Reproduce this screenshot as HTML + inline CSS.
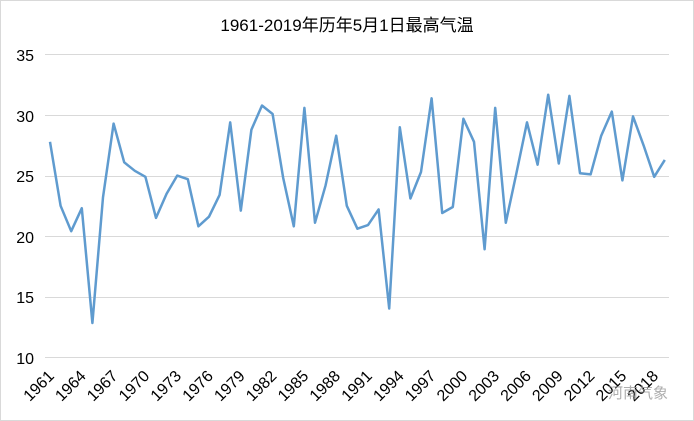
<!DOCTYPE html>
<html><head><meta charset="utf-8"><style>
html,body{margin:0;padding:0;background:#fff}
svg{display:block}
text{font-family:"Liberation Sans","Noto Sans CJK SC",sans-serif;fill:#000}
</style></head><body>
<svg width="694" height="421" viewBox="0 0 694 421">
<rect x="0.5" y="0.5" width="693" height="420" fill="#fff" stroke="#d9d9d9"/>
<text x="347" y="31" font-size="17" text-anchor="middle">1961-2019年历年5月1日最高气温</text>
<g stroke="#d9d9d9" stroke-width="1">
<line x1="45" x2="669" y1="54.5" y2="54.5"/>
<line x1="45" x2="669" y1="115.5" y2="115.5"/>
<line x1="45" x2="669" y1="176.5" y2="176.5"/>
<line x1="45" x2="669" y1="236.5" y2="236.5"/>
<line x1="45" x2="669" y1="297.5" y2="297.5"/>
<line x1="45" x2="669" y1="357.5" y2="357.5"/>
</g>
<g font-size="16" text-anchor="end">
<text x="34" y="61">35</text>
<text x="34" y="122">30</text>
<text x="34" y="182">25</text>
<text x="34" y="243">20</text>
<text x="34" y="303">15</text>
<text x="34" y="364">10</text>
</g>
<polyline fill="none" stroke="#5f9bcf" stroke-width="2.5" stroke-linejoin="round" points="50,141.8 60.6,205.8 71.2,231.2 81.8,208.2 92.4,323 103,197.3 113.6,123.6 124.2,162.3 134.8,170.8 145.4,176.8 156,217.9 166.6,193.7 177.2,175.6 187.8,179.2 198.4,226.3 209,216.7 219.6,194.9 230.2,122.4 240.8,210.6 251.4,129.7 262,105.5 272.6,114 283.2,178 293.8,226.3 304.4,107.9 315,222.7 325.6,185.3 336.2,135.7 346.8,205.8 357.4,228.7 368,225.1 378.6,209.4 389.2,308.5 399.8,127.3 410.4,198.5 421,172 431.6,98.3 442.2,213 452.8,207 463.4,118.8 474,141.8 484.6,249.3 495.2,107.9 505.8,222.7 516.4,173.2 527,122.4 537.6,164.7 548.2,94.7 558.8,163.5 569.4,95.9 580,173.2 590.6,174.4 601.2,135.7 611.8,111.6 622.4,180.4 633,116.4 643.6,145.4 654.2,176.8 664.8,159.9"/>
<g font-size="16" text-anchor="end">
<text transform="translate(55,377) rotate(-45)">1961</text>
<text transform="translate(86.8,377) rotate(-45)">1964</text>
<text transform="translate(118.6,377) rotate(-45)">1967</text>
<text transform="translate(150.4,377) rotate(-45)">1970</text>
<text transform="translate(182.2,377) rotate(-45)">1973</text>
<text transform="translate(214,377) rotate(-45)">1976</text>
<text transform="translate(245.8,377) rotate(-45)">1979</text>
<text transform="translate(277.6,377) rotate(-45)">1982</text>
<text transform="translate(309.4,377) rotate(-45)">1985</text>
<text transform="translate(341.2,377) rotate(-45)">1988</text>
<text transform="translate(373,377) rotate(-45)">1991</text>
<text transform="translate(404.8,377) rotate(-45)">1994</text>
<text transform="translate(436.6,377) rotate(-45)">1997</text>
<text transform="translate(468.4,377) rotate(-45)">2000</text>
<text transform="translate(500.2,377) rotate(-45)">2003</text>
<text transform="translate(532,377) rotate(-45)">2006</text>
<text transform="translate(563.8,377) rotate(-45)">2009</text>
<text transform="translate(595.6,377) rotate(-45)">2012</text>
<text transform="translate(627.4,377) rotate(-45)">2015</text>
<text transform="translate(659.2,377) rotate(-45)">2018</text>
</g>
<text x="608" y="398" font-size="15" style="fill:#999;opacity:0.8">河南气象</text>
</svg>
</body></html>
